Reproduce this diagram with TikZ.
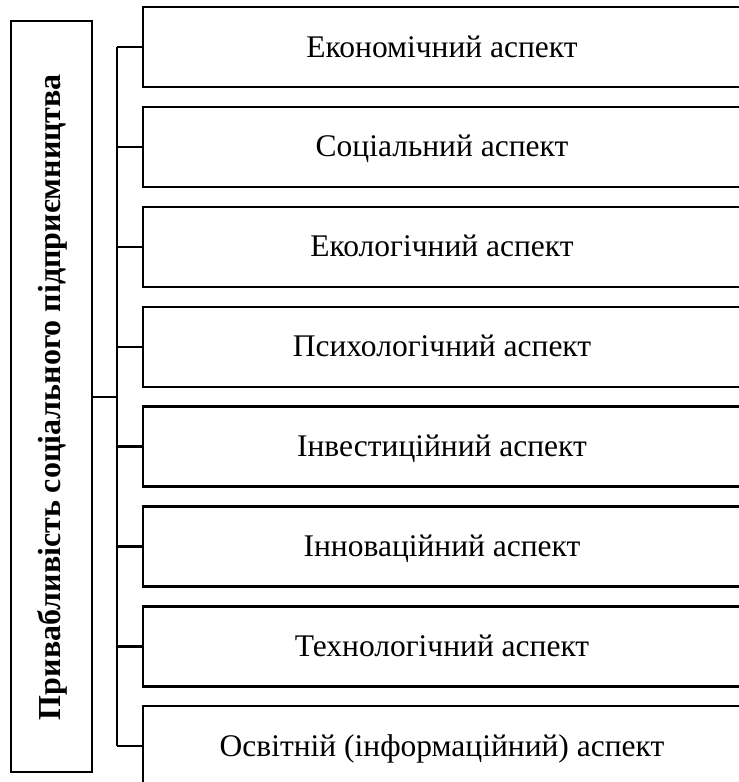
\documentclass[tikz,border=0pt]{standalone}
\usepackage{fontspec}
\setmainfont{Liberation Serif}
\begin{document}
\begin{tikzpicture}[x=1pt,y=-1pt,
  frame/.style={draw=black,line width=2.3pt,fill=white},
  aspect/.style={font=\fontsize{31.5}{36}\selectfont,anchor=base,inner sep=0pt},
  conn/.style={draw=black,line width=2.3pt}]
\useasboundingbox (0,0) rectangle (739,782);
\clip (0,0) rectangle (739,782);
\fill[white] (0,0) rectangle (739,782);
% main box
\draw[frame] (11,21) rectangle (92,772);
\node[rotate=90,anchor=base,inner sep=0pt,font=\bfseries\fontsize{32}{36}\selectfont] (main) at (60,397) {Привабливість соціального підприємництва};
\coordinate (mainR) at (92,397);
\coordinate (busJ) at (117,397);
\coordinate (busT) at (117,47);
\coordinate (busB) at (117,746);
\draw[conn] (mainR) -- (busJ);
\draw[conn] (busT) -- (busB);
\foreach \i/\t in {0/Економічний аспект,1/Соціальний аспект,2/Екологічний аспект,3/Психологічний аспект,4/Інвестиційний аспект,5/Інноваційний аспект,6/Технологічний аспект,7/Освітній (інформаційний) аспект}{
  \pgfmathsetmacro{\yt}{7+99.9*\i}
  \pgfmathsetmacro{\yb}{\yt+80}
  \pgfmathsetmacro{\yc}{\yt+40}
  \pgfmathsetmacro{\ybase}{\yt+50}
  \draw[frame] (143,\yt) rectangle (760,\yb);
  \node[aspect] (a\i) at (442,\ybase) {\t};
  \coordinate (b\i) at (117,\yc);
  \coordinate (c\i) at (143,\yc);
  \draw[conn] (b\i) -- (c\i);
}
\end{tikzpicture}
\end{document}
